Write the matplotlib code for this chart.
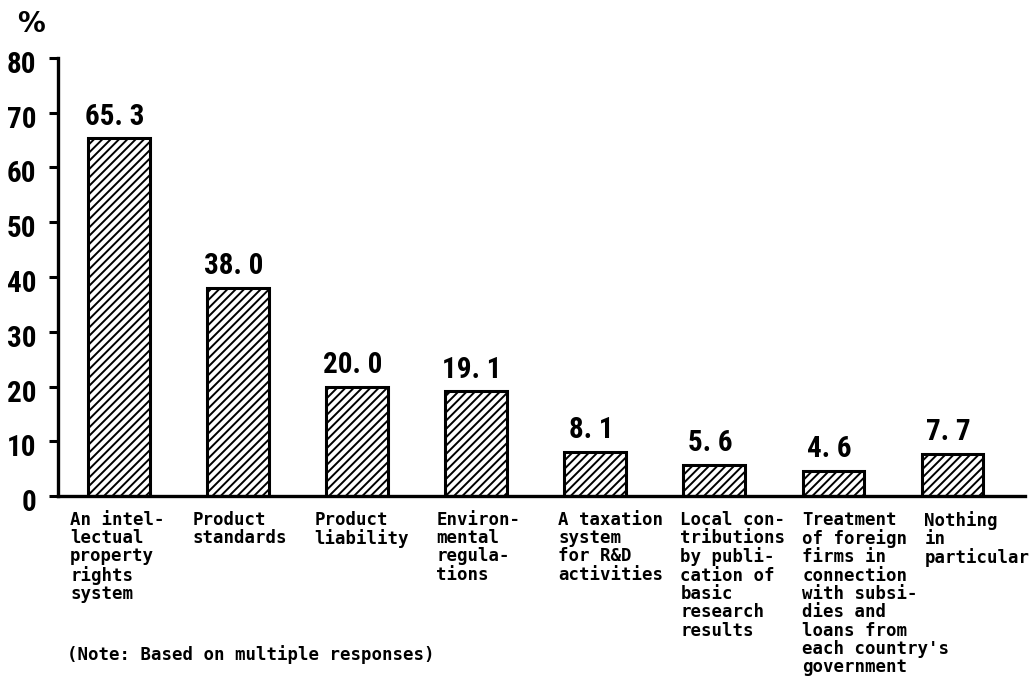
import matplotlib
matplotlib.use("Agg")
import matplotlib.pyplot as plt
import matplotlib.transforms as mtransforms
import logging

logging.getLogger("matplotlib.font_manager").setLevel(logging.ERROR)

# Survey results: requested improvements (multiple responses, %)
categories = [
    "An intel-\nlectual\nproperty\nrights\nsystem",
    "Product\nstandards",
    "Product\nliability",
    "Environ-\nmental\nregula-\ntions",
    "A taxation\nsystem\nfor R&D\nactivities",
    "Local con-\ntributions\nby publi-\ncation of\nbasic\nresearch\nresults",
    "Treatment\nof foreign\nfirms in\nconnection\nwith subsi-\ndies and\nloans from\neach country's\ngovernment",
    "Nothing\nin\nparticular",
]
values = [65.3, 38.0, 20.0, 19.1, 8.1, 5.6, 4.6, 7.7]
y_ticks = [0, 10, 20, 30, 40, 50, 60, 70, 80]
note = "(Note: Based on multiple responses)"

plt.rcParams["hatch.linewidth"] = 1.4
plt.rcParams["hatch.color"] = "black"

NUM_FONT = ["Roboto Condensed", "Liberation Sans Narrow", "Liberation Sans"]
MONO_FONT = ["DejaVu Sans Mono"]

fig = plt.figure(figsize=(10.34, 6.77), dpi=100)
W, H = 1034, 677
ax = fig.add_axes([58 / W, (H - 496) / H, (1025 - 58) / W, (496 - 58) / H])

x = list(range(len(values)))
ax.bar(x, values, width=0.517, color="white", edgecolor="black",
       linewidth=2.2, hatch="////", zorder=2)

ax.set_ylim(0, 80)
ax.set_xlim(-0.512, 7.61)

for side in ("top", "right"):
    ax.spines[side].set_visible(False)
for side in ("left", "bottom"):
    ax.spines[side].set_linewidth(2.4)

ax.set_xticks([])
ax.set_yticks(y_ticks)
ax.set_yticklabels([str(t) for t in y_ticks], fontfamily=NUM_FONT,
                   fontweight="bold", fontsize=21)
ax.tick_params(axis="y", direction="out", length=6.5, width=2.2, pad=9)
shift = mtransforms.ScaledTranslation(0, -4 / 100, fig.dpi_scale_trans)
for lbl in ax.get_yticklabels():
    lbl.set_transform(lbl.get_transform() + shift)

# value labels above each bar
for xi, v in zip(x, values):
    ax.annotate(f"{v:.1f}".replace(".", ". "), xy=(xi, v), xytext=(-3, 10),
                textcoords="offset points", ha="center", va="baseline",
                fontfamily=NUM_FONT, fontweight="bold", fontsize=21)

# category labels beneath the baseline
for xi, lab in zip(x, categories):
    ax.annotate(lab, xy=(xi * 1.025 - 0.41, 0), xytext=(0, -10.5),
                textcoords="offset points", ha="left", va="top",
                fontfamily=MONO_FONT, fontweight="bold", fontsize=12.5,
                linespacing=1.025, annotation_clip=False)

fig.text(31 / W, 1 - 24 / H, "%", ha="center", va="center",
         fontfamily="DejaVu Sans", fontweight="bold", fontsize=20)
fig.text(67 / W, 1 - 655 / H, note, ha="left", va="center",
         fontfamily=MONO_FONT, fontweight="bold", fontsize=12.5)

fig.savefig("out.png", dpi=100)
